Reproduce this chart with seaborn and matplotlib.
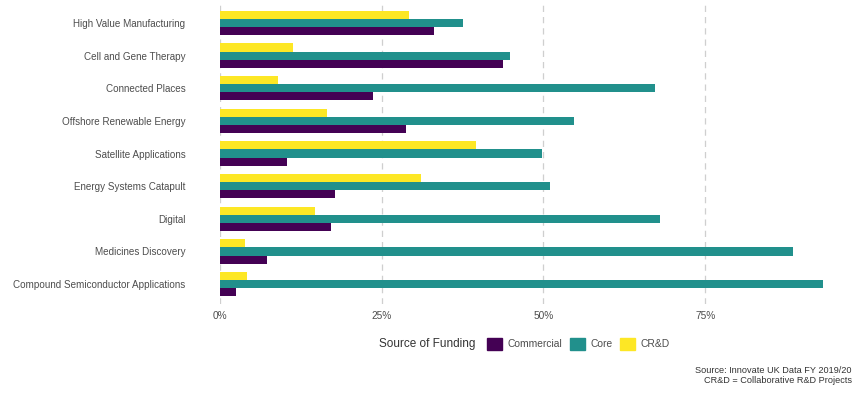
import pandas as pd
import matplotlib
matplotlib.use("Agg")
import matplotlib.pyplot as plt
import matplotlib.patches as mpatches
import seaborn as sns

# funding share by catapult, FY 2019/20
catapults = [
    "High Value Manufacturing",
    "Cell and Gene Therapy",
    "Connected Places",
    "Offshore Renewable Energy",
    "Satellite Applications",
    "Energy Systems Catapult",
    "Digital",
    "Medicines Discovery",
    "Compound Semiconductor Applications",
]
commercial = [33.1, 43.7, 23.7, 28.7, 10.4, 17.7, 17.1, 7.2, 2.4]
core = [37.6, 44.9, 67.2, 54.7, 49.8, 51.0, 68.0, 88.6, 93.2]
crd = [29.2, 11.3, 8.9, 16.5, 39.6, 31.0, 14.7, 3.9, 4.2]

sources = ["Commercial", "Core", "CR&D"]
colours = {"Commercial": "#440154", "Core": "#21908C", "CR&D": "#FDE725"}
xticks = [0, 25, 50, 75]
xticklabels = ["0%", "25%", "50%", "75%"]

df = pd.concat(
    [
        pd.DataFrame({"catapult": catapults, "source": s, "share": v})
        for s, v in zip(sources, [commercial, core, crd])
    ]
)

sns.set_theme(style="white")
plt.rcParams["font.family"] = ["Liberation Sans", "DejaVu Sans"]
txt = "#4D4D4D"

fig = plt.figure(figsize=(8.68, 3.99), dpi=100)
ax = fig.add_axes([0.2535, 0.239, 0.708, 0.7525])

sns.barplot(
    data=df,
    x="share",
    y="catapult",
    hue="source",
    hue_order=["CR&D", "Core", "Commercial"],
    order=catapults,
    palette=colours,
    orient="h",
    width=0.75,
    linewidth=0,
    saturation=1,
    legend=False,
    ax=ax,
)

ax.set_xlim(0, 95)
ax.set_ylim(len(catapults) - 0.4, -0.6)
ax.set_xticks(xticks)
ax.set_xticklabels(xticklabels)
ax.set_xlabel("")
ax.set_ylabel("")
ax.set_axisbelow(True)
ax.grid(axis="x", color="#CFCFCF", linewidth=0.9, linestyle=(0, (5, 4)))
ax.grid(axis="y", visible=False)
sns.despine(ax=ax, left=True, bottom=True)
ax.tick_params(axis="x", length=0, pad=5.5, labelsize=7.3, labelcolor=txt)
ax.tick_params(axis="y", length=0, pad=25, labelsize=7.1, labelcolor=txt)

# legend with the title to the left, ggplot style
fig.text(0.4366, 0.138, "Source of Funding", fontsize=8.5, color="#333333",
         va="center", ha="left")
handles = [mpatches.Patch(color=colours[s], label=s) for s in sources]
fig.legend(
    handles=handles,
    loc="center left",
    bbox_to_anchor=(0.555, 0.138),
    ncol=3,
    frameon=False,
    fontsize=7.4,
    handlelength=1.45,
    handleheight=1.45,
    handletextpad=0.55,
    columnspacing=0.75,
    borderpad=0,
    labelcolor=txt,
)

fig.text(0.981, 0.06, "Source: Innovate UK Data FY 2019/20\nCR&D = Collaborative R&D Projects",
         ha="right", va="center", multialignment="right", fontsize=6.6,
         color="#333333", linespacing=1.15)

fig.savefig("out.png", dpi=100)
